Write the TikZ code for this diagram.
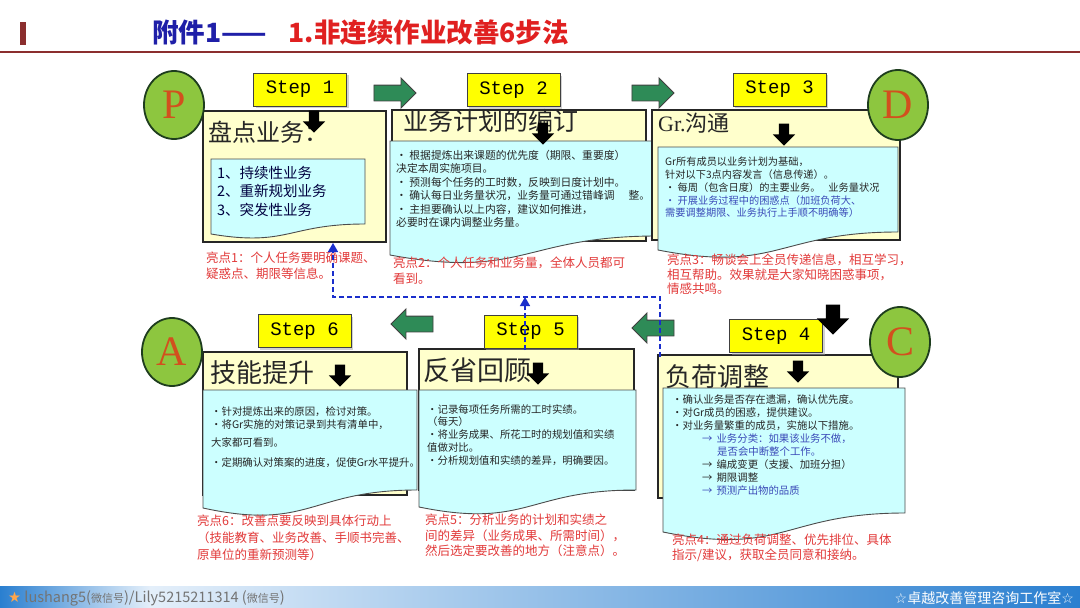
\documentclass[tikz,border=0pt]{standalone}
\usepackage{fontspec}
\setmainfont{Noto Sans CJK SC}
\setmonofont{Liberation Mono}
\newfontfamily\romanfont{Liberation Serif}
\newfontfamily\symbolfont{DejaVu Sans}
\usetikzlibrary{shapes.geometric,shapes.arrows,arrows.meta,shadows,positioning}

\definecolor{creambox}{HTML}{FFFFCC}
\definecolor{cyanbox}{HTML}{CCFFFF}
\definecolor{labelyellow}{HTML}{FFFF00}
\definecolor{leafgreen}{HTML}{8DC63F}
\definecolor{rimgreen}{HTML}{1E3D1E}
\definecolor{letterred}{HTML}{D2501E}
\definecolor{arrowgreen}{HTML}{2E8B57}
\definecolor{pointred}{HTML}{E23A3A}
\definecolor{notesblue}{HTML}{3A4AB8}
\definecolor{feedblue}{HTML}{1A2ECC}
\definecolor{titleblue}{HTML}{1F1FA8}
\definecolor{titlered}{HTML}{E02020}
\definecolor{rulered}{HTML}{8B2E2E}
\definecolor{barblue}{HTML}{2A7FD0}
\definecolor{barlight}{HTML}{E4EFFA}

\tikzset{
	outerbox/.style={draw=black!85,line width=1.2pt,fill=creambox},
	innerbox/.style={draw=black!70,line width=0.9pt,fill=cyanbox},
	steplabel/.style={draw=black!75,line width=0.9pt,fill=labelyellow,minimum width=93pt,minimum height=33pt,inner sep=0pt,
		drop shadow={shadow xshift=2pt,shadow yshift=-2pt,fill=black!35},font=\ttfamily\fontsize{19}{19}\selectfont},
	pdca/.style={ellipse,draw=rimgreen,line width=1.8pt,fill=leafgreen,minimum width=60pt,minimum height=68pt,inner sep=0pt,
		text=letterred,font=\romanfont\fontsize{42}{42}\selectfont},
	flowarrow/.style={single arrow,draw=black!75,line width=0.9pt,fill=arrowgreen,minimum height=42pt,
		inner xsep=0pt,inner ysep=7.5pt,single arrow head extend=7pt},
	downarrow/.style={single arrow,fill=black,shape border rotate=270,minimum height=22pt,
		inner sep=5pt,single arrow head extend=6pt},
	headline/.style={anchor=west,inner sep=0pt,text=black!85},
	bodytext/.style={anchor=north west,align=left,inner sep=0pt,text=black!85,font=\fontsize{10.4}{13}\selectfont},
	pointtext/.style={anchor=north west,align=left,inner sep=0pt,text=pointred,font=\fontsize{12.5}{16}\selectfont},
	feedback/.style={draw=feedblue,line width=1.4pt,dash pattern=on 5pt off 3pt},
}

% x1, y1, x2, right bottom, left bottom
\newcommand{\docbox}[5]{%
	\path[innerbox] (#1,#2) -- (#3,#2) -- (#3,#4)
		.. controls ({(#1+#3)/2},#4) and ({(#1+#3)/2},{#4+2.3*(#5-#4)}) .. (#1,#5) -- cycle;}

\begin{document}
\begin{tikzpicture}[x=1pt,y=-1pt]
	\useasboundingbox (0,0) rectangle (1080,608);
	\fill[white] (0,0) rectangle (1080,608);

	\fill[rulered] (20,22) rectangle (26,45);
	\draw[rulered,line width=1.2pt] (0,52) -- (1080,52);
	\node[anchor=west,inner sep=0pt,font=\fontsize{26.5}{26.5}\selectfont\bfseries] (title) at (152,33)
		{\textcolor{titleblue}{附件1——}\hspace{22pt}\textcolor{titlered}{1.非连续作业改善6步法}};

	\shade[left color=barblue,right color=barlight] (0,586) rectangle (150,608);
	\shade[left color=barlight,right color=barblue] (150,586) rectangle (1080,608);
	\node[anchor=west,inner sep=0pt,text=black!55,font=\fontsize{14.5}{14.5}\selectfont] (footleft) at (8,598)
		{{\symbolfont\textcolor{orange!70}{★}} lushang5({\fontsize{11}{11}\selectfont 微信号})/Lily5215211314 ({\fontsize{11}{11}\selectfont 微信号})};
	\node[anchor=east,inner sep=0pt,text=white,font=\fontsize{14}{14}\selectfont] (footright) at (1074,598)
		{{\symbolfont ☆}卓越改善管理咨询工作室{\symbolfont ☆}};

	\path[outerbox] (203,111) rectangle (386,242);
	\docbox{211}{159}{365}{224}{234}
	\path[outerbox] (392,110) rectangle (646,241);
	\docbox{390}{141}{657}{236}{255}
	\path[outerbox] (652,110) rectangle (900,240);
	\docbox{658}{147}{898}{232}{250}
	\path[outerbox] (658,355) rectangle (898,498);
	\docbox{663}{388}{905}{513}{532}
	\path[outerbox] (419,349) rectangle (634,490);
	\docbox{419}{390}{636}{490}{507}
	\path[outerbox] (203,352) rectangle (407,495);
	\docbox{203}{390}{417}{490}{508}

	\node[steplabel] (step1) at (300,89.5) {Step 1};
	\node[steplabel] (step2) at (513.5,90) {Step 2};
	\node[steplabel] (step3) at (779.5,89.5) {Step 3};
	\node[steplabel] (step4) at (776,336) {Step 4};
	\node[steplabel] (step5) at (530.5,331.5) {Step 5};
	\node[steplabel] (step6) at (304.5,331) {Step 6};

	\node[pdca] (plan) at (174,105) {P};
	\node[pdca,minimum height=70pt] (do) at (898,105) {D};
	\node[pdca,minimum height=70pt] (check) at (900,342) {C};
	\node[pdca] (act) at (172,352) {A};

	\node[flowarrow] (go12) at (391,93) {};
	\node[flowarrow] (go23) at (649,93) {};
	\node[flowarrow,shape border rotate=180] (go45) at (657,328) {};
	\node[flowarrow,shape border rotate=180] (go56) at (416,324) {};
	\node[downarrow,minimum height=30pt,inner sep=7pt,single arrow head extend=9pt] (go34) at (833,316) {};

	\node[headline,font=\fontsize{24}{24}\selectfont] (head1) at (208,132) {盘点业务：};
	\node[headline,font=\fontsize{25}{25}\selectfont] (head2) at (403,121) {业务计划的编订};
	\node[headline,font=\fontsize{22}{22}\selectfont] (head3) at (658,123) {{\romanfont Gr.}沟通};
	\node[headline,font=\fontsize{26}{26}\selectfont] (head4) at (665,377) {负荷调整};
	\node[headline,font=\fontsize{27}{27}\selectfont] (head5) at (423,370) {反省回顾};
	\node[headline,font=\fontsize{26}{26}\selectfont] (head6) at (210,373) {技能提升};

	\foreach \name/\pos in {mark1/{(314,119)},mark2/{(543,131)},mark3/{(784,132)},mark4/{(798,369)},mark5/{(538,371)},mark6/{(340,373)}}
		\node[downarrow] (\name) at \pos {};

	\node[bodytext,text=black!75!blue,font=\fontsize{14.5}{18.5}\selectfont] (body1) at (217,166)
		{1、持续性业务\\2、重新规划业务\\3、突发性业务};
	\node[bodytext,font=\fontsize{10.8}{13.4}\selectfont] (body2) at (396,150)
		{・ 根据提炼出来课题的优先度（期限、重要度）\\决定本周实施项目。\\・ 预测每个任务的工时数，反映到日度计划中。\\
		・ 确认每日业务量状况，业务量可通过错峰调\hspace{14pt}整。\\・ 主担要确认以上内容，建议如何推进，\\必要时在课内调整业务量。};
	\node[bodytext,font=\fontsize{10.2}{12.8}\selectfont] (body3) at (665,157)
		{Gr所有成员以业务计划为基础，\\针对以下3点内容发言（信息传递）。\\・ 每周（包含日度）的主要业务。\hspace{8pt}业务量状况\\
		{\color{notesblue}・ 开展业务过程中的困惑点（加班负荷大、}\\{\color{notesblue}需要调整期限、业务执行上手顺不明确等）}};
	\node[bodytext] (body4) at (672,395)
		{・确认业务是否存在遗漏，确认优先度。\\・对Gr成员的困惑，提供建议。\\・对业务量繁重的成员，实施以下措施。\\
		\hspace*{30pt}{\color{notesblue}→\hspace{4pt}业务分类：如果该业务不做，}\\\hspace*{45pt}{\color{notesblue}是否会中断整个工作。}\\
		\hspace*{30pt}→\hspace{4pt}编成变更（支援、加班分担）\\\hspace*{30pt}→\hspace{4pt}期限调整\\
		\hspace*{30pt}{\color{notesblue}→\hspace{4pt}预测产出物的品质}};
	\node[bodytext,font=\fontsize{10.4}{12.8}\selectfont] (body5) at (427,404)
		{・记录每项任务所需的工时实绩。\\（每天）\\・将业务成果、所花工时的规划值和实绩\\值做对比。\\・分析规划值和实绩的差异，明确要因。};
	\node[bodytext] (body6) at (211,406)
		{・针对提炼出来的原因，检讨对策。\\・将Gr实施的对策记录到共有清单中，\\[5pt]大家都可看到。\\[7pt]・定期确认对策案的进度，促使Gr水平提升。};

	\node[pointtext] (point1) at (206,252) {亮点1：个人任务要明确课题、\\疑惑点、期限等信息。};
	\node[pointtext] (point2) at (393,257) {亮点2：个人任务和业务量，全体人员都可\\看到。};
	\node[pointtext,font=\fontsize{12.5}{14.5}\selectfont] (point3) at (667,254) {亮点3：畅谈会上全员传递信息，相互学习，\\相互帮助。效果就是大家知晓困惑事项，\\情感共鸣。};
	\node[pointtext,font=\fontsize{12.5}{15}\selectfont] (point4) at (672,534) {亮点4：通过负荷调整、优先排位、具体\\指示/建议，获取全员同意和接纳。};
	\node[pointtext,font=\fontsize{12.5}{15.5}\selectfont] (point5) at (425,514) {亮点5：分析业务的计划和实绩之\\间的差异（业务成果、所需时间），\\然后选定要改善的地方（注意点）。};
	\node[pointtext,font=\fontsize{12.5}{17}\selectfont] (point6) at (197,515) {亮点6：改善点要反映到具体行动上\\（技能教育、业务改善、手顺书完善、\\原单位的重新预测等）};

	\coordinate (from4) at (660,357);
	\coordinate (turn4) at (660,297);
	\coordinate (turn1) at (333,297);
	\coordinate (into1) at (333,243);
	\coordinate (from5) at (525,350);
	\coordinate (into5) at (525,297);
	\draw[feedback,-{Triangle[width=10pt,length=9pt]}] (from4) -- (turn4) -- (turn1) -- (into1);
	\draw[feedback,-{Triangle[width=10pt,length=9pt]}] (from5) -- (into5);
\end{tikzpicture}
\end{document}
